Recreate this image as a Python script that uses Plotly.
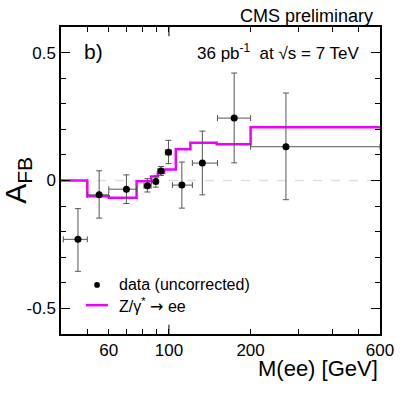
import plotly.graph_objects as go

# data points (uncorrected)
mass = [46.2, 55.3, 69.7, 83.3, 89.4, 93.5, 99.6, 111.6, 132.8, 174.0, 270.0]
afb = [-0.23, -0.056, -0.034, -0.021, -0.004, 0.037, 0.110, -0.018, 0.068, 0.244, 0.132]
afb_up = [0.12, 0.094, 0.056, 0.028, 0.021, 0.018, 0.047, 0.090, 0.125, 0.176, 0.210]
afb_down = [0.125, 0.091, 0.056, 0.024, 0.022, 0.017, 0.044, 0.090, 0.124, 0.175, 0.207]
mass_lo = [40.8, 50.0, 60.0, 80.9, 86.2, 91.0, 97.0, 103.0, 122.0, 151.0, 200.0]
mass_hi = [50.0, 60.0, 76.0, 86.0, 91.0, 94.8, 102.0, 122.0, 151.0, 200.0, 600.0]

# Z/gamma* -> ee prediction (histogram)
bin_edges = [40, 50, 60, 76, 86, 91, 96, 106, 120, 150, 200, 600]
mc_afb = [0.0, -0.062, -0.067, -0.003, 0.016, 0.030, 0.043, 0.122, 0.148, 0.142, 0.208]

FONT = "Liberation Sans, Arial, sans-serif"

fig = go.Figure()

# zero reference line
fig.add_trace(go.Scatter(
    x=[40, 600], y=[0, 0], mode="lines",
    line=dict(color="#dddddd", width=1.5, dash="dash"),
    hoverinfo="skip", showlegend=False
))

# MC step histogram
fig.add_trace(go.Scatter(
    x=bin_edges, y=mc_afb + [mc_afb[-1]],
    mode="lines", line=dict(color="#ee00ff", width=2.5, shape="hv"),
    showlegend=False
))

# data with error bars
fig.add_trace(go.Scatter(
    x=mass, y=afb, mode="markers",
    marker=dict(color="black", size=7),
    error_y=dict(type="data", symmetric=False, array=afb_up, arrayminus=afb_down,
                 color="#555555", thickness=1, width=3),
    error_x=dict(type="data", symmetric=False,
                 array=[h - m for h, m in zip(mass_hi, mass)],
                 arrayminus=[m - l for m, l in zip(mass, mass_lo)],
                 color="#555555", thickness=1, width=3),
    showlegend=False
))

fig.update_layout(
    width=409, height=394,
    margin=dict(l=61, r=29, t=27, b=60),
    paper_bgcolor="white", plot_bgcolor="white",
    font=dict(family=FONT, size=17, color="black"),
    showlegend=False,
    xaxis=dict(
        type="log", range=[1.60206, 2.778151],
        tickvals=[60, 100, 200, 600], ticktext=["60", "100", "200", "600"],
        ticks="inside", ticklen=5, tickcolor="black",
        minor=dict(tickvals=[50, 70, 80, 90, 300, 400, 500], ticks="inside",
                   ticklen=5, tickcolor="black"),
        showline=True, linecolor="black", linewidth=1.5, mirror="ticks",
        showgrid=False, zeroline=False,
    ),
    yaxis=dict(
        range=[-0.6, 0.6],
        tickvals=[-0.5, 0, 0.5], ticktext=["-0.5", "0", "0.5"],
        ticks="inside", ticklen=9, tickcolor="black",
        minor=dict(dtick=0.1, ticks="inside", ticklen=5, tickcolor="black"),
        showline=True, linecolor="black", linewidth=1.5, mirror="ticks",
        showgrid=False, zeroline=False,
    ),
)

# longer major tick at 100 (decade)
fig.add_shape(type="line", xref="x", yref="paper", x0=100, x1=100, y0=0, y1=0.03,
              line=dict(color="black", width=1))
fig.add_shape(type="line", xref="x", yref="paper", x0=100, x1=100, y0=0.97, y1=1,
              line=dict(color="black", width=1))

# legend drawn by hand
fig.add_shape(type="circle", xref="paper", yref="paper",
              x0=0.113 - 0.009, x1=0.113 + 0.009, y0=0.160 - 0.0095, y1=0.160 + 0.0095,
              fillcolor="black", line=dict(color="black", width=0))
fig.add_shape(type="line", xref="paper", yref="paper", x0=0.078, x1=0.147, y0=0.094, y1=0.094,
              line=dict(color="#ee00ff", width=2.5))

annotations = [
    dict(text="data (uncorrected)", x=0.176, y=0.160, xanchor="left", yanchor="middle", size=16),
    dict(text="Z/γ<sup>*</sup> <span style='font-family:DejaVu Sans'>→</span> ee",
         x=0.176, y=0.094, xanchor="left", yanchor="middle", size=16),
    dict(text="CMS preliminary", x=0.984, y=1.036, xanchor="right", yanchor="middle", size=18),
    dict(text="b)", x=0.066, y=0.919, xanchor="left", yanchor="middle", size=21),
    dict(text="36 pb<sup>-1</sup>  at √s = 7 TeV", x=0.944, y=0.919, xanchor="right",
         yanchor="middle", size=17),
    dict(text="M(ee) [GeV]", x=1.0, y=-0.111, xanchor="right", yanchor="middle", size=22),
]
for a in annotations:
    fig.add_annotation(text=a["text"], x=a["x"], y=a["y"], xref="paper", yref="paper",
                       xanchor=a["xanchor"], yanchor=a["yanchor"], showarrow=False,
                       font=dict(family=FONT, size=a["size"], color="black"))

fig.add_annotation(text="A<sub>FB</sub>", x=-0.135, y=0.502, xref="paper", yref="paper",
                   textangle=-90, showarrow=False, xanchor="center", yanchor="middle",
                   font=dict(family=FONT, size=30, color="black"))

# drop the default body margin so the 409x394 figure fills the window exactly
fig.write_html("out.html", config={"displayModeBar": False},
               post_script="document.body.style.margin='0';")
